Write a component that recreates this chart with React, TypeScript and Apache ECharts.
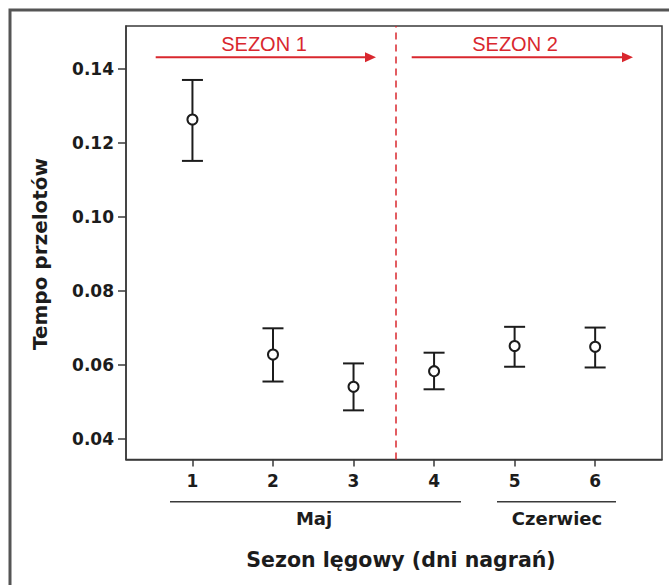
import React, { useEffect, useRef } from "react";
import * as echarts from "echarts";

const days = [1, 2, 3, 4, 5, 6];
const means = [0.1264, 0.0628, 0.0541, 0.0583, 0.0651, 0.0649];
const lower = [0.1152, 0.0555, 0.0477, 0.0534, 0.0595, 0.0593];
const upper = [0.1371, 0.0699, 0.0604, 0.0633, 0.0703, 0.0701];
const yTicks = [0.04, 0.06, 0.08, 0.1, 0.12, 0.14];
const seasonSplit = 3.52;
const monthLabels = ["Maj", "Czerwiec"];
const seasonLabels = ["SEZON 1", "SEZON 2"];

const RED = "#d9272e";
const INK = "#1c1c1c";
const AXIS = "#3a3a3a";
const BOLD = "DejaVu Sans";

export default function App() {
  const ref = useRef<HTMLDivElement>(null);
  useEffect(() => {
    const chart = echarts.init(ref.current!, null, { renderer: "svg" });
    const data = days.map((d, i) => [d, means[i], lower[i], upper[i]]);
    const arrow = (x1: number, x2: number, y: number) => [
      { type: "line", shape: { x1, y1: y, x2: x2 - 9, y2: y }, style: { stroke: RED, lineWidth: 2 } },
      { type: "polygon", shape: { points: [[x2 - 11, y - 5], [x2, y], [x2 - 11, y + 5]] }, style: { fill: RED } },
    ];
    chart.setOption({
      animation: false,
      backgroundColor: "#ffffff",
      grid: { left: 126, top: 26, right: 7, bottom: 125.5, show: true, borderColor: AXIS, borderWidth: 1.5 },
      xAxis: {
        type: "value",
        min: 0.175,
        max: 6.83,
        splitLine: { show: false },
        axisLine: { show: true, lineStyle: { color: AXIS, width: 1.5 } },
        axisTick: { show: true, length: 7, customValues: days, lineStyle: { color: AXIS, width: 1.5 } },
        axisLabel: { customValues: days, margin: 13, fontFamily: BOLD, fontWeight: "bold", fontSize: 17, color: INK },
      },
      yAxis: {
        type: "value",
        min: 0.0344,
        max: 0.1517,
        splitLine: { show: false },
        axisLine: { show: true, lineStyle: { color: AXIS, width: 1.5 } },
        axisTick: { show: true, length: 8, customValues: yTicks, lineStyle: { color: AXIS, width: 1.5 } },
        axisLabel: {
          customValues: yTicks,
          margin: 12,
          fontFamily: BOLD,
          fontWeight: "bold",
          fontSize: 17,
          color: INK,
          formatter: (v: number) => v.toFixed(2),
        },
      },
      series: [
        {
          type: "custom",
          data,
          encode: { x: 0, y: [1, 2, 3] },
          renderItem: (params: any, api: any) => {
            const x = api.value(0);
            const pHi = api.coord([x, api.value(3)]);
            const pLo = api.coord([x, api.value(2)]);
            const pM = api.coord([x, api.value(1)]);
            const hw = 10.5;
            const st = { stroke: INK, lineWidth: 2 };
            return {
              type: "group",
              children: [
                { type: "line", shape: { x1: pHi[0], y1: pHi[1], x2: pLo[0], y2: pLo[1] }, style: st },
                { type: "line", shape: { x1: pHi[0] - hw, y1: pHi[1], x2: pHi[0] + hw, y2: pHi[1] }, style: st },
                { type: "line", shape: { x1: pLo[0] - hw, y1: pLo[1], x2: pLo[0] + hw, y2: pLo[1] }, style: st },
                { type: "circle", shape: { cx: pM[0], cy: pM[1], r: 5 }, style: { fill: "#ffffff", stroke: INK, lineWidth: 2 } },
              ],
            };
          },
          markLine: {
            silent: true,
            symbol: "none",
            label: { show: false },
            lineStyle: { color: RED, width: 1.5, type: [7, 5] },
            data: [{ xAxis: seasonSplit }],
          },
        },
      ],
      graphic: [
        { type: "rect", shape: { x: 10, y: 10, width: 720, height: 640 }, style: { fill: "none", stroke: "#555555", lineWidth: 3 }, silent: true },
        ...arrow(155.7, 376, 57.3),
        ...arrow(411.7, 633, 57.3),
        { type: "text", x: 264, y: 43.5, style: { text: seasonLabels[0], fill: RED, font: "20px 'Liberation Sans'", align: "center", verticalAlign: "middle" } },
        { type: "text", x: 515, y: 43.5, style: { text: seasonLabels[1], fill: RED, font: "20px 'Liberation Sans'", align: "center", verticalAlign: "middle" } },
        { type: "line", shape: { x1: 170, y1: 501.7, x2: 461, y2: 501.7 }, style: { stroke: AXIS, lineWidth: 1.5 } },
        { type: "line", shape: { x1: 497, y1: 501.7, x2: 616, y2: 501.7 }, style: { stroke: AXIS, lineWidth: 1.5 } },
        { type: "text", x: 314, y: 518.5, style: { text: monthLabels[0], fill: INK, font: `bold 18px '${BOLD}'`, align: "center", verticalAlign: "middle" } },
        { type: "text", x: 557, y: 518.5, style: { text: monthLabels[1], fill: INK, font: `bold 18px '${BOLD}'`, align: "center", verticalAlign: "middle" } },
        { type: "text", x: 401, y: 560, style: { text: "Sezon lęgowy (dni nagrań)", fill: INK, font: `bold 20.5px '${BOLD}'`, align: "center", verticalAlign: "middle" } },
        { type: "text", x: 40, y: 254, rotation: Math.PI / 2, style: { text: "Tempo przelotów", fill: INK, font: `bold 20px '${BOLD}'`, align: "center", verticalAlign: "middle" } },
      ],
    });
    return () => chart.dispose();
  }, []);
  return <div ref={ref} style={{ position: "absolute", left: 0, top: 0, width: 669, height: 585 }} />;
}
